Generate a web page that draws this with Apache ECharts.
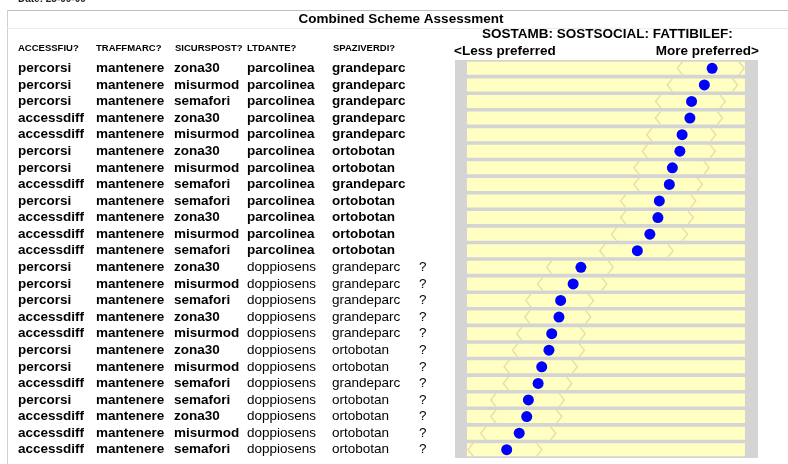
<!DOCTYPE html>
<html lang="en">
<head>
<meta charset="utf-8">
<script src="https://cdn.jsdelivr.net/npm/echarts@6/dist/echarts.min.js"></script>
<style>
    html, body { margin: 0; padding: 0; background: #fff; }
    #main { width: 788px; height: 464px; }
</style>
</head>
<body>
<div id="main"></div>
<script>
    // scheme table (one entry per row, top to bottom)
    var accessfiu  = ['percorsi','percorsi','percorsi','accessdiff','accessdiff','percorsi','percorsi','accessdiff','percorsi','accessdiff','accessdiff','accessdiff',
                      'percorsi','percorsi','percorsi','accessdiff','accessdiff','percorsi','percorsi','accessdiff','percorsi','accessdiff','accessdiff','accessdiff'];
    var traffmarc  = ['mantenere','mantenere','mantenere','mantenere','mantenere','mantenere','mantenere','mantenere','mantenere','mantenere','mantenere','mantenere',
                      'mantenere','mantenere','mantenere','mantenere','mantenere','mantenere','mantenere','mantenere','mantenere','mantenere','mantenere','mantenere'];
    var sicurspost = ['zona30','misurmod','semafori','zona30','misurmod','zona30','misurmod','semafori','semafori','zona30','misurmod','semafori',
                      'zona30','misurmod','semafori','zona30','misurmod','zona30','misurmod','semafori','semafori','zona30','misurmod','semafori'];
    var ltdante    = ['parcolinea','parcolinea','parcolinea','parcolinea','parcolinea','parcolinea','parcolinea','parcolinea','parcolinea','parcolinea','parcolinea','parcolinea',
                      'doppiosens','doppiosens','doppiosens','doppiosens','doppiosens','doppiosens','doppiosens','doppiosens','doppiosens','doppiosens','doppiosens','doppiosens'];
    var spaziverdi = ['grandeparc','grandeparc','grandeparc','grandeparc','grandeparc','ortobotan','ortobotan','grandeparc','ortobotan','ortobotan','ortobotan','ortobotan',
                      'grandeparc','grandeparc','grandeparc','grandeparc','grandeparc','ortobotan','ortobotan','grandeparc','ortobotan','ortobotan','ortobotan','ortobotan'];
    var flags      = ['','','','','','','','','','','','',
                      '?','?','?','?','?','?','?','?','?','?','?','?'];

    // preference score (0 = less preferred, 100 = more preferred) and its range
    var score = [88.2, 85.4, 80.8, 80.2, 77.4, 76.6, 73.9, 72.8, 69.2, 68.7, 65.8, 61.3,
                 41.0, 38.2, 33.7, 33.1, 30.5, 29.5, 26.9, 25.6, 22.1, 21.5, 18.8, 14.3];
    var lower = [76.6, 73.0, 68.8, 68.7, 65.6, 64.0, 61.0, 61.0, 56.2, 56.2, 52.9, 48.7,
                 29.6, 26.3, 22.1, 21.7, 18.8, 17.3, 14.3, 14.0, 9.5, 9.5, 5.9, 1.3];
    var upper = [98.8, 96.4, 92.0, 91.0, 88.6, 88.4, 86.2, 83.8, 81.4, 80.5, 78.4, 73.2,
                 51.7, 49.4, 44.6, 43.6, 41.6, 41.3, 38.8, 36.8, 34.1, 33.2, 31.0, 26.0];
    var scaleMax = 100;

    var headers = ['ACCESSFIU?', 'TRAFFMARC?', 'SICURSPOST?', 'LTDANTE?', 'SPAZIVERDI?'];
    var headerX = [18, 96, 175, 247, 333];

    var rows = score.map(function (v, i) { return 'r' + (i + 1); });
    var FONT = '"Liberation Sans", Arial, sans-serif';

    var chart = echarts.init(document.getElementById('main'));

    var graphics = [
        { type: 'text', left: 18, top: -6, style: { text: 'Date: 25-09-09', font: 'bold 10px ' + FONT, fill: '#222' } },
        { type: 'line', shape: { x1: 7, y1: 10.5, x2: 788, y2: 10.5 }, style: { stroke: '#bdbdbd', lineWidth: 1 } },
        { type: 'line', shape: { x1: 7.5, y1: 10, x2: 7.5, y2: 464 }, style: { stroke: '#cfcfcf', lineWidth: 1 } },
        { type: 'line', shape: { x1: 7, y1: 28.5, x2: 788, y2: 28.5 }, style: { stroke: '#ececec', lineWidth: 1 } },
        { type: 'text', x: 401, y: 19, style: { text: 'Combined Scheme Assessment', font: 'bold 13.5px ' + FONT, fill: '#000', align: 'center', verticalAlign: 'middle' } },
        { type: 'text', x: 482, y: 34, style: { text: 'SOSTAMB: SOSTSOCIAL: FATTIBILEF:', font: 'bold 13.5px ' + FONT, fill: '#000', align: 'left', verticalAlign: 'middle' } },
        { type: 'text', x: 454, y: 51, style: { text: '<Less preferred', font: 'bold 13.5px ' + FONT, fill: '#000', align: 'left', verticalAlign: 'middle' } },
        { type: 'text', x: 759, y: 51, style: { text: 'More preferred>', font: 'bold 13.5px ' + FONT, fill: '#000', align: 'right', verticalAlign: 'middle' } }
    ];
    headers.forEach(function (h, i) {
        graphics.push({ type: 'text', x: headerX[i], y: 48, style: { text: h, font: 'bold 9.5px ' + FONT, fill: '#000', align: 'left', verticalAlign: 'middle' } });
    });

    // thin angle brackets for the lower / upper end of each range
    var chevronL = 'path://M5.2,0 L0,6.5 L5.2,13 L7,13 L1.8,6.5 L7,0 Z';
    var chevronR = 'path://M1.8,0 L7,6.5 L1.8,13 L0,13 L5.2,6.5 L0,0 Z';

    function cell(w, bold) {
        return { fontFamily: FONT, fontSize: 13.5, fontWeight: bold ? 'bold' : 'normal', color: '#000', align: 'left', width: w };
    }

    chart.setOption({
        animation: false,
        backgroundColor: '#fff',
        graphic: graphics,
        grid: {
            left: 455, right: 30, top: 60, height: 398,
            show: true, backgroundColor: '#d4d4d4', borderWidth: 0,
            outerBoundsMode: 'none'
        },
        xAxis: {
            type: 'value', min: -4.3, max: 104.7, show: false
        },
        yAxis: {
            type: 'category', data: rows, inverse: true,
            axisLine: { show: false }, axisTick: { show: false }, splitLine: { show: false },
            axisLabel: {
                interval: 0, align: 'left', margin: 437,
                formatter: function (v, i) {
                    var plain = ltdante[i] === 'doppiosens';
                    return '{a|' + accessfiu[i] + '}{b|' + traffmarc[i] + '}{c|' + sicurspost[i] + '}' +
                        (plain ? '{dn|' + ltdante[i] + '}{en|' + spaziverdi[i] + '}' : '{d|' + ltdante[i] + '}{e|' + spaziverdi[i] + '}') +
                        '{q|' + (flags[i] || ' ') + '}';
                },
                rich: {
                    a: cell(78, true), b: cell(78, true), c: cell(73, true),
                    d: cell(85, true), e: cell(87, true),
                    dn: cell(85, false), en: cell(87, false),
                    q: cell(12, false)
                }
            }
        },
        series: [
            {
                type: 'bar', barWidth: 13, silent: true,
                data: rows.map(function () { return scaleMax; }),
                itemStyle: { color: '#ffffc2' }
            },
            {
                type: 'scatter', symbol: chevronL, symbolSize: [7, 13],
                data: lower.map(function (v, i) { return [v, i]; }),
                itemStyle: { color: '#e8dcae', opacity: 1 }
            },
            {
                type: 'scatter', symbol: chevronR, symbolSize: [7, 13],
                data: upper.map(function (v, i) { return [v, i]; }),
                itemStyle: { color: '#e8dcae', opacity: 1 }
            },
            {
                type: 'scatter', symbol: 'circle', symbolSize: 11,
                data: score.map(function (v, i) { return [v, i]; }),
                itemStyle: { color: '#0000ff', opacity: 1 }
            }
        ]
    });
</script>
</body>
</html>
